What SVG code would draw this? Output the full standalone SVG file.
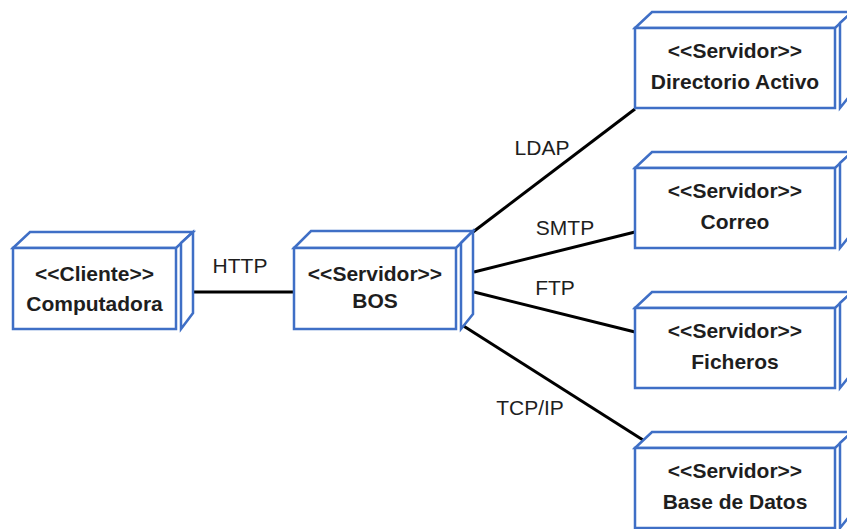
<svg xmlns="http://www.w3.org/2000/svg" width="847" height="529" viewBox="0 0 847 529">
<defs>
<style>
.face{fill:#ffffff;stroke:#3f6fc6;stroke-width:2.5;stroke-linejoin:miter}
.nt{font-family:"Liberation Sans",Arial,sans-serif;font-size:21px;font-weight:bold;fill:#1e1e1e;text-anchor:middle}
.el{font-family:"Liberation Sans",Arial,sans-serif;font-size:21px;fill:#1e1e1e;text-anchor:middle}
.conn{stroke:#000000;stroke-width:3;fill:none}
</style>
</defs>
<rect width="847" height="529" fill="#ffffff"/>
<g id="connectors">
<line class="conn" x1="193" y1="292" x2="294" y2="292"/>
<line class="conn" x1="473" y1="232" x2="635" y2="109"/>
<line class="conn" x1="474" y1="272" x2="635" y2="232"/>
<line class="conn" x1="474" y1="292" x2="635" y2="332"/>
<line class="conn" x1="462" y1="325" x2="643" y2="440"/>
<text class="el" x="240" y="273">HTTP</text>
<text class="el" x="542" y="155">LDAP</text>
<text class="el" x="565" y="235">SMTP</text>
<text class="el" x="555" y="295">FTP</text>
<text class="el" x="530" y="415">TCP/IP</text>
</g>
<g id="computadora">
<polygon class="face" points="13,248 30,232 193,232 176,248"/>
<polygon class="face" points="181,243 193,232 193,313 181,329"/>
<rect class="face" x="13" y="248" width="163" height="81"/>
<text class="nt" x="94.5" y="281">&lt;&lt;Cliente&gt;&gt;</text>
<text class="nt" x="94.5" y="311">Computadora</text>
</g>
<g id="bos">
<polygon class="face" points="294,248 311,231 473,231 456,248"/>
<polygon class="face" points="461,243 473,231 473,314 461,329"/>
<rect class="face" x="294" y="248" width="162" height="81"/>
<text class="nt" x="375" y="281">&lt;&lt;Servidor&gt;&gt;</text>
<text class="nt" x="375" y="308">BOS</text>
</g>
<g id="directorio">
<polygon class="face" points="635,28 652,12 852,12 835,28"/>
<polygon class="face" points="840,23 852,12 852,93 840,108"/>
<rect class="face" x="635" y="28" width="200" height="80"/>
<text class="nt" x="735" y="58">&lt;&lt;Servidor&gt;&gt;</text>
<text class="nt" x="735" y="89">Directorio Activo</text>
</g>
<g id="correo">
<polygon class="face" points="635,168 652,152 852,152 835,168"/>
<polygon class="face" points="840,163 852,152 852,233 840,248"/>
<rect class="face" x="635" y="168" width="200" height="80"/>
<text class="nt" x="735" y="198">&lt;&lt;Servidor&gt;&gt;</text>
<text class="nt" x="735" y="229">Correo</text>
</g>
<g id="ficheros">
<polygon class="face" points="635,308 652,292 852,292 835,308"/>
<polygon class="face" points="840,303 852,292 852,373 840,388"/>
<rect class="face" x="635" y="308" width="200" height="80"/>
<text class="nt" x="735" y="338">&lt;&lt;Servidor&gt;&gt;</text>
<text class="nt" x="735" y="369">Ficheros</text>
</g>
<g id="basedatos">
<polygon class="face" points="635,448 652,432 852,432 835,448"/>
<polygon class="face" points="840,443 852,432 852,513 840,528"/>
<rect class="face" x="635" y="448" width="200" height="80"/>
<text class="nt" x="735" y="478">&lt;&lt;Servidor&gt;&gt;</text>
<text class="nt" x="735" y="509">Base de Datos</text>
</g>
</svg>
